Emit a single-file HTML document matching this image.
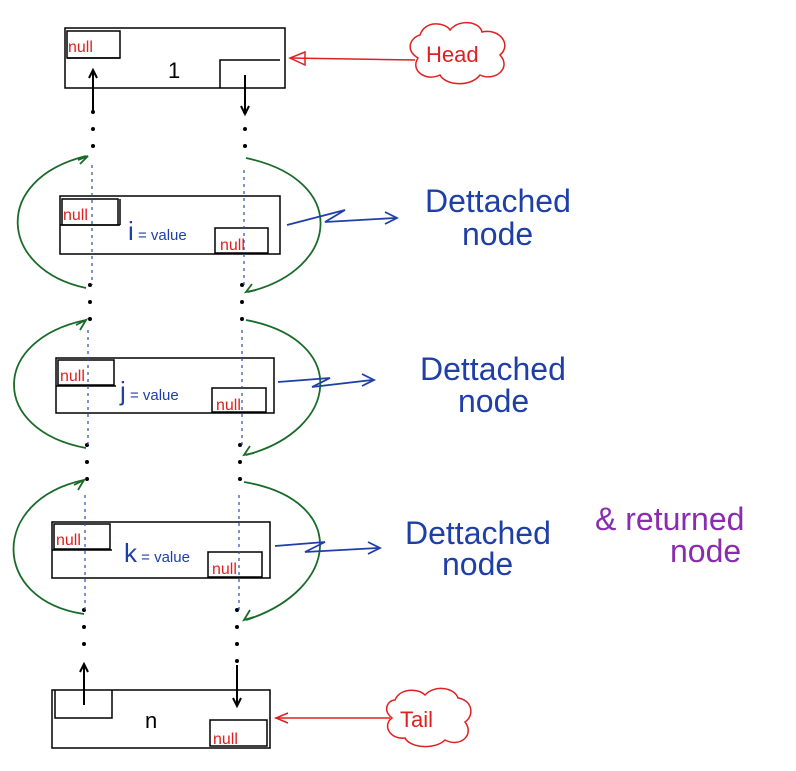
<!DOCTYPE html>
<html><head><meta charset="utf-8"><style>
html,body{margin:0;padding:0;background:#fff}
svg{display:block}
text{font-family:"Liberation Sans",sans-serif}
</style></head><body>
<svg width="796" height="771" viewBox="0 0 796 771">
<g stroke="#000" stroke-width="1.5" fill="none">
 <g>
  <rect x="65" y="28" width="220" height="60"/>
  <rect x="67" y="31" width="53" height="27"/>
  <path d="M67 58 L120 58 M220 88 L220 60 L280 60"/>
 </g>
 <g>
  <rect x="52" y="690" width="218" height="58"/>
  <path d="M55 690 L55 718 L112 718 L112 690"/>
  <rect x="210" y="720" width="57" height="26"/>
 </g>
 <g>
  <rect x="60" y="196" width="220" height="58"/>
  <path d="M60 225 L120 225 M120 199 L120 225"/>
  <rect x="62" y="199" width="56" height="26"/>
  <rect x="215" y="228" width="53" height="25"/>
 </g>
 <g>
  <rect x="56" y="358" width="218" height="55"/>
  <path d="M56 386 L116 386"/>
  <rect x="58" y="360" width="56" height="25"/>
  <rect x="212" y="388" width="54" height="24"/>
 </g>
 <g>
  <rect x="52" y="522" width="218" height="56"/>
  <path d="M52 550 L112 550"/>
  <rect x="54" y="524" width="56" height="25"/>
  <rect x="208" y="552" width="54" height="25"/>
 </g>
</g>
<g stroke="#000" stroke-width="4" stroke-linecap="round" stroke-dasharray="0 17">
 <line x1="93" y1="112" x2="93" y2="150"/><line x1="245" y1="112" x2="245" y2="160"/>
 <line x1="90" y1="285" x2="90" y2="330"/><line x1="242" y1="285" x2="242" y2="320"/>
 <line x1="87" y1="445" x2="87" y2="490"/><line x1="240" y1="445" x2="240" y2="490"/>
 <line x1="84" y1="610" x2="84" y2="660"/><line x1="237" y1="610" x2="237" y2="665"/>
</g>
<g stroke="#000" stroke-width="2" fill="none">
 <line x1="93" y1="72" x2="93" y2="112"/><path d="M89 78 L93 70 L97 78"/>
 <line x1="245" y1="75" x2="245" y2="112"/><path d="M241 106 L245 114 L249 106"/>
 <line x1="84" y1="665" x2="84" y2="705"/><path d="M80 672 L84 664 L88 672"/>
 <line x1="237" y1="665" x2="237" y2="705"/><path d="M233 698 L237 706 L241 698"/>
</g>
<g stroke="#2a4bb8" stroke-width="1.2" stroke-dasharray="3 4" fill="none">
 <line x1="92" y1="165" x2="92" y2="285"/><line x1="244" y1="170" x2="244" y2="285"/>
 <line x1="88" y1="330" x2="88" y2="445"/><line x1="242" y1="330" x2="242" y2="445"/>
 <line x1="85" y1="495" x2="85" y2="610"/><line x1="239" y1="495" x2="239" y2="610"/>
</g>
<g stroke="#1a6b2a" stroke-width="1.8" fill="none">
 <path d="M86 288 C0 270 -10 180 86 156"/><path d="M78 160 L88 156 L80 164"/>
 <path d="M246 158 C350 180 340 270 248 292"/><path d="M252 284 L246 292 L256 290"/>
 <path d="M86 448 C-10 430 -10 340 86 320"/><path d="M76 325 L86 320 L80 330"/>
 <path d="M246 320 C350 340 340 430 246 455"/><path d="M250 446 L244 455 L254 453"/>
 <path d="M84 614 C-10 600 -10 500 84 480"/><path d="M74 485 L84 480 L78 490"/>
 <path d="M244 482 C350 500 340 590 246 620"/><path d="M250 610 L244 620 L254 617"/>
</g>
<g stroke="#1f3fa8" stroke-width="1.8" fill="none">
 <path d="M287 225 L345 210 L325 222 L395 218"/><path d="M385 212 L397 218 L385 224"/>
 <path d="M278 382 L330 378 L312 387 L372 380"/><path d="M362 374 L374 380 L362 386"/>
 <path d="M275 546 L325 542 L305 552 L378 548"/><path d="M368 542 L380 548 L368 554"/>
</g>
<g stroke="#e02020" stroke-width="1.5" fill="none">
 <path d="M290 58 L415 60"/><path d="M305 52 L290 58 L305 65 Z"/>
 <path d="M275 718 L390 718"/><path d="M288 713 L276 718 L288 723"/>
 <path d="M420 35 C425 20 445 22 450 30 C460 18 480 22 482 32 C500 28 512 45 500 55 C512 68 495 82 480 75 C470 88 445 85 440 75 C425 82 410 70 418 58 C405 50 410 38 420 35 Z"/>
 <path d="M395 700 C400 688 418 688 425 695 C435 684 455 688 458 698 C472 700 475 715 465 722 C475 735 460 748 445 740 C435 750 410 748 405 738 C390 740 382 725 392 718 C382 710 388 700 395 700 Z"/>
</g>
<g fill="#e02020" font-size="16">
 <text x="68" y="52">null</text><text x="63" y="220">null</text><text x="60" y="381">null</text><text x="56" y="545">null</text>
 <text x="220" y="250">null</text><text x="216" y="410">null</text><text x="212" y="574">null</text><text x="213" y="744">null</text>
 <text x="426" y="62" font-size="22">Head</text>
 <text x="400" y="727" font-size="22">Tail</text>
</g>
<g fill="#000" font-size="22">
 <text x="168" y="78">1</text><text x="145" y="728">n</text>
</g>
<g fill="#1f3fa8" font-size="15">
 <text x="128" y="240"><tspan font-size="26">i</tspan> = value</text>
 <text x="120" y="400"><tspan font-size="26">j</tspan> = value</text>
 <text x="124" y="562"><tspan font-size="26">k</tspan> = value</text>
</g>
<g fill="#1f3fa8" font-size="32">
 <text x="425" y="212">Dettached</text><text x="462" y="245">node</text>
 <text x="420" y="380">Dettached</text><text x="458" y="412">node</text>
 <text x="405" y="544">Dettached</text><text x="442" y="575">node</text>
</g>
<g fill="#8b2bb0" font-size="32">
 <text x="595" y="530">&amp; returned</text><text x="670" y="562">node</text>
</g>
</svg>
</body></html>
